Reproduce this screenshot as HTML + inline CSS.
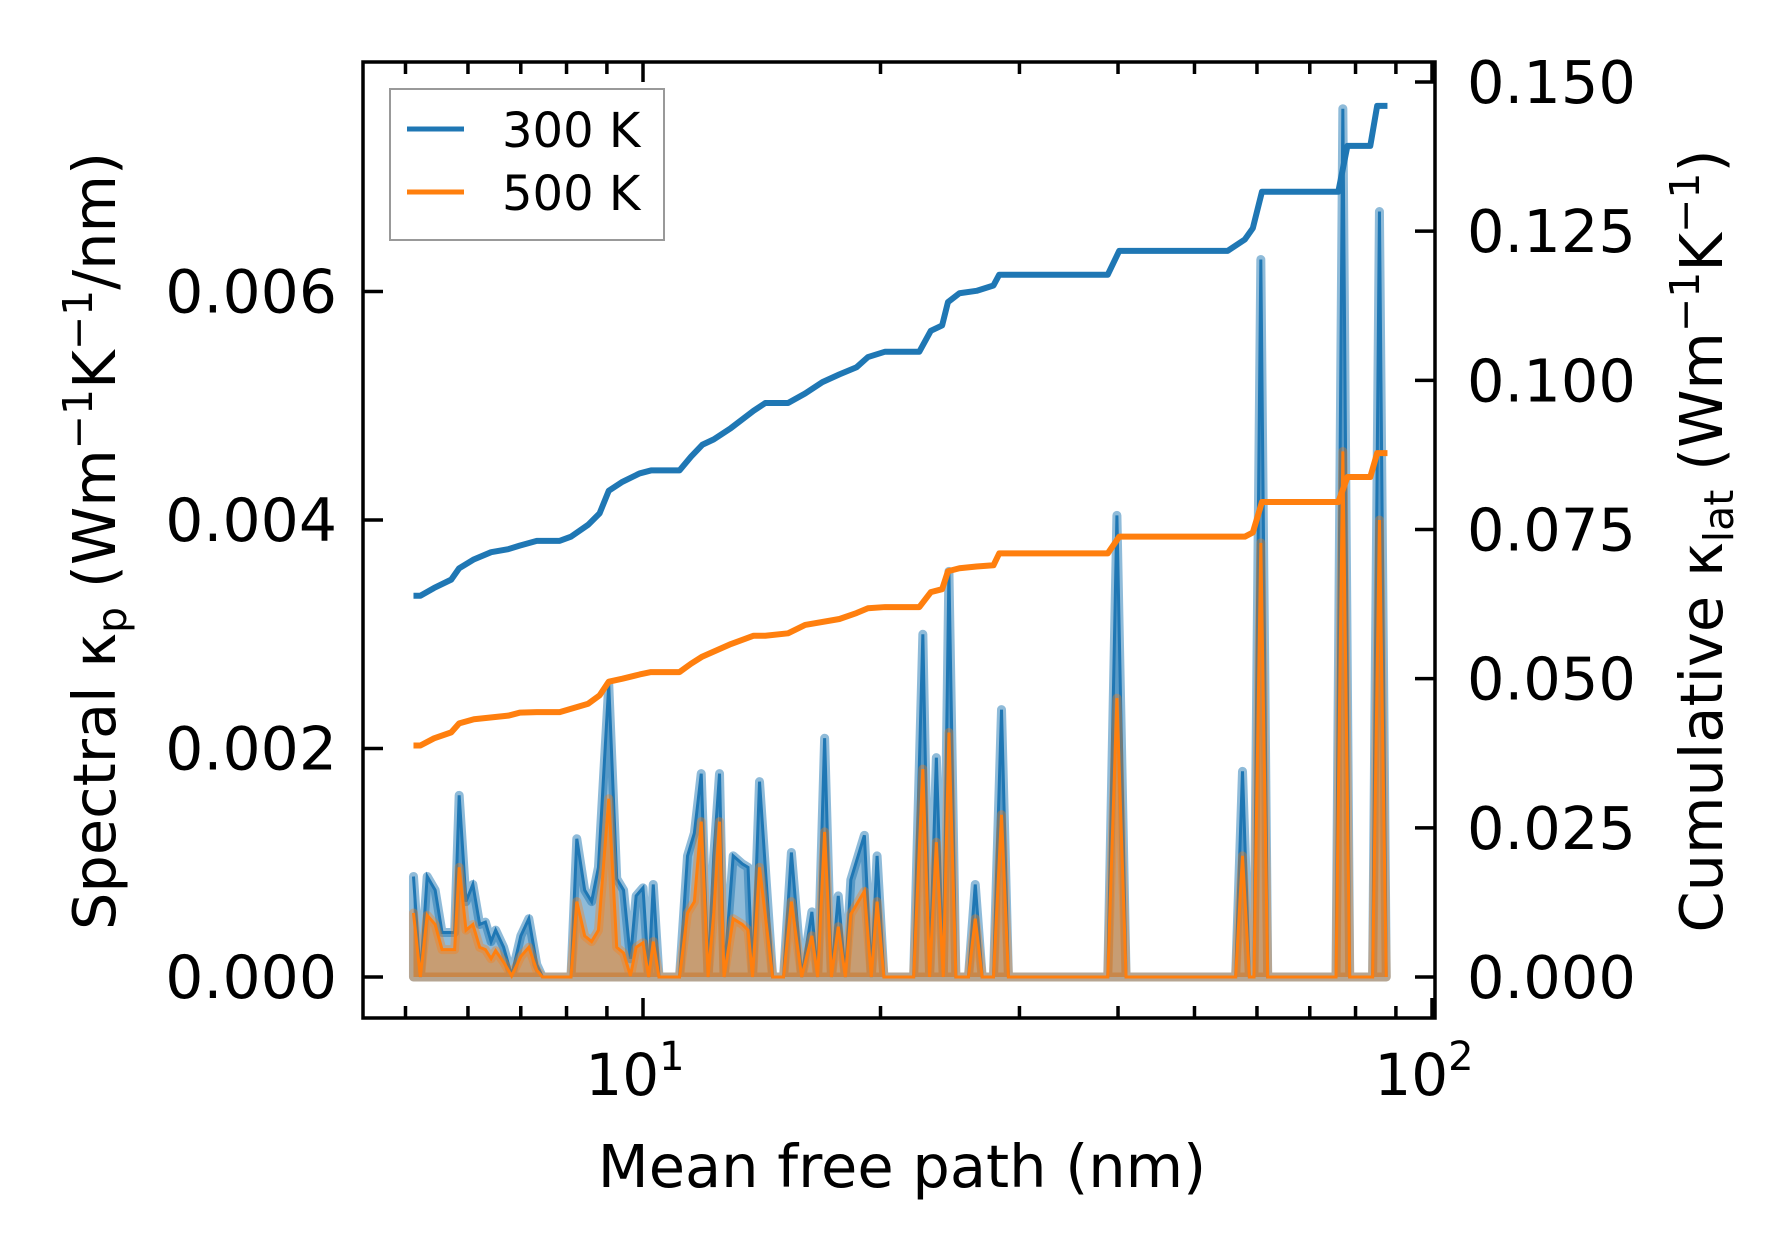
<!DOCTYPE html>
<html><head><meta charset="utf-8"><style>
html,body{margin:0;padding:0;background:#fff}
svg{display:block;font-family:"DejaVu Sans","Liberation Sans",sans-serif}
</style></head><body>
<svg id="chart" width="1790" height="1258" viewBox="0 0 1790 1258" xmlns="http://www.w3.org/2000/svg">
<g id="plot"></g>
</svg>
<script>
// ---- data ----
const specMfp = [5.118,5.222,5.327,5.452,5.563,5.771,5.848,5.966,6.086,6.209,6.313,6.419,6.505,6.658,6.816,7.001,7.166,7.334,7.457,8.104,8.243,8.435,8.607,8.781,9.049,9.262,9.449,9.640,9.802,10.0,10.168,10.304,10.478,11.124,11.387,11.618,11.852,12.092,12.294,12.502,12.668,13.011,13.363,13.587,13.767,14.05,14.6,15.07,15.42,15.89,16.37,16.65,16.99,17.33,17.68,18.05,18.34,19.08,19.47,19.80,20.20,22.03,22.63,23.08,23.54,24.02,24.42,24.92,25.85,26.37,26.91,27.81,28.47,29.05,38.82,39.87,40.95,56.38,57.52,58.69,59.47,60.68,61.91,75.57,77.09,78.65,84.08,85.78,87.5];
const spec300 = [0.00088,0,0.00088,0.00076,0.00039,0.00039,0.00159,0.00066,0.00081,0.00046,0.00048,0.00031,0.00041,0.00026,0.00001,0.00036,0.00051,0.00011,0,0,0.00121,0.00076,0.00066,0.00096,0.00256,0.00086,0.00076,0.00016,0.00071,0.00078,0,0.00081,0,0,0.00106,0.00126,0.00178,0,0.00106,0.00178,0,0.00106,0.00099,0.00096,0,0.00171,0,0,0.00109,0,0.00057,0,0.00209,0,0.00071,0,0.00085,0.00124,0,0.00106,0,0,0.003,0,0.00192,0,0.00355,0,0,0.00081,0,0,0.00234,0,0,0.00404,0,0,0.0018,0,0,0.00628,0,0,0.0076,0,0,0.0067,0];
const spec500 = [0.00056,0,0.00054,0.00046,0.00024,0.00024,0.00096,0.00041,0.00046,0.00026,0.00024,0.00016,0.00023,0.00013,0.00001,0.00018,0.00026,0.00006,0,0,0.00066,0.00036,0.00031,0.00041,0.00156,0.00026,0.00021,0.00001,0.00026,0.0003,0,0.00031,0,0,0.00056,0.00066,0.00136,0,0.00056,0.00136,0,0.00051,0.00046,0.00041,0,0.00096,0,0,0.00066,0,0.00036,0,0.00127,0,0.00044,0,0.00055,0.00075,0,0.00066,0,0,0.00182,0,0.00118,0,0.00214,0,0,0.00051,0,0,0.00142,0,0,0.00244,0,0,0.00106,0,0,0.0038,0,0,0.0046,0,0,0.004,0];
const cumMfp300 = [5.118,5.222,5.435,5.714,5.848,6.106,6.419,6.748,6.977,7.334,7.842,8.104,8.522,8.810,9.049,9.419,9.900,10.235,11.124,11.503,11.890,12.294,12.925,13.81,14.29,15.27,16.05,16.88,17.74,18.65,19.28,20.27,22.40,23.16,23.94,24.35,25.18,26.47,27.81,28.28,30.74,38.82,40.14,55.08,57.91,59.28,60.88,76.07,78.13,83.52,85.21,87.81];
const cum300 = [0.0639,0.0639,0.0652,0.0666,0.0685,0.0700,0.0712,0.0717,0.0723,0.0731,0.0731,0.0738,0.0758,0.0777,0.0815,0.0830,0.0844,0.0849,0.0849,0.0872,0.0892,0.0901,0.0920,0.0949,0.0962,0.0962,0.0978,0.0997,0.1010,0.1022,0.1039,0.1048,0.1048,0.1083,0.1092,0.1131,0.1146,0.1150,0.1159,0.1177,0.1177,0.1177,0.1217,0.1217,0.1236,0.1255,0.1316,0.1316,0.1393,0.1393,0.1460,0.1460];
const cumMfp500 = [5.118,5.222,5.435,5.714,5.848,6.106,6.748,6.977,7.334,7.842,8.522,8.810,9.049,9.419,9.900,10.235,11.124,11.503,11.890,12.925,13.81,14.29,15.27,16.05,17.74,18.65,19.28,20.27,22.40,23.16,23.94,24.35,25.18,26.47,27.81,28.28,38.82,40.14,57.91,59.28,60.88,76.07,78.13,83.52,85.21,87.81];
const cum500 = [0.0388,0.0388,0.0400,0.0410,0.0425,0.0432,0.0438,0.0443,0.0444,0.0444,0.0458,0.0472,0.0495,0.0500,0.0507,0.0511,0.0511,0.0525,0.0537,0.0558,0.0572,0.0572,0.0576,0.0590,0.0600,0.0610,0.0618,0.0620,0.0620,0.0645,0.0650,0.0680,0.0685,0.0688,0.0690,0.0710,0.0710,0.0738,0.0738,0.0745,0.0796,0.0796,0.0838,0.0838,0.0878,0.0878];
const leftTicks = [0,0.002,0.004,0.006];
const leftTickLabels = ["0.000","0.002","0.004","0.006"];
const rightTicks = [0,0.025,0.05,0.075,0.1,0.125,0.15];
const rightTickLabels = ["0.000","0.025","0.050","0.075","0.100","0.125","0.150"];
const xMajor = [10,100];
const xMinor = [5,6,7,8,9,20,30,40,50,60,70,80,90];

// ---- axes ----
const L=363,R=1435,T=62,B=1018;
const X0=643, DEC=789;
const xs=v=>X0+(Math.log10(v)-1)*DEC;
const yl=v=>977-v/0.002*228.5;
const yr=v=>977-v/0.15*895;
const NS="http://www.w3.org/2000/svg";
const g=document.getElementById('plot');
function mk(tag,attrs,parent){const e=document.createElementNS(NS,tag);for(const k in attrs)e.setAttribute(k,attrs[k]);(parent||g).appendChild(e);return e;}

function areaPath(xsArr,ys,yf){let d='M'+xs(xsArr[0])+','+yf(0);xsArr.forEach((m,i)=>{d+=' L'+xs(m)+','+yf(ys[i]);});d+=' L'+xs(xsArr[xsArr.length-1])+','+yf(0)+' Z';return d;}
function linePath(xsArr,ys,yf){return xsArr.map((m,i)=>(i?'L':'M')+xs(m)+','+yf(ys[i])).join(' ');}

let e;
e=mk('path',{d:areaPath(specMfp,spec300,yl),fill:'#1f77b4','fill-opacity':0.5,stroke:'#1f77b4','stroke-opacity':0.5,'stroke-width':9,'stroke-linejoin':'round'});


e=mk('path',{d:linePath(specMfp,spec300,yl),fill:'none',stroke:'#1f77b4','stroke-width':3});


e=mk('path',{d:areaPath(specMfp,spec500,yl),fill:'#ff7f0e','fill-opacity':0.5,stroke:'#ff7f0e','stroke-opacity':0.35,'stroke-width':9,'stroke-linejoin':'round'});


e=mk('path',{d:linePath(specMfp,spec500,yl),fill:'none',stroke:'#ff7f0e','stroke-width':3});


e=mk('path',{d:linePath(cumMfp300,cum300,yr),fill:'none',stroke:'#1f77b4','stroke-width':6,'stroke-linejoin':'round'});


e=mk('path',{d:linePath(cumMfp500,cum500,yr),fill:'none',stroke:'#ff7f0e','stroke-width':6,'stroke-linejoin':'round'});



e=mk('rect',{x:L,y:T,width:R-L,height:B-T,fill:'none',stroke:'#000','stroke-width':3.5});



const tk=(x1,y1,x2,y2)=>mk('path',{d:`M${x1},${y1}L${x2},${y2}`,stroke:'#000','stroke-width':3.5});
xMajor.forEach(v=>{const x=xs(v);tk(x,B,x,B-20);tk(x,T,x,T+20);});
xMinor.forEach(v=>{const x=xs(v);if(x<L||x>R)return;tk(x,B,x,B-12);tk(x,T,x,T+12);});
leftTicks.forEach((v,i)=>{const y=yl(v);tk(L,y,L+20,y);
 e=mk('text',{x:L-26,y:y+21,'text-anchor':'end','font-size':60});e.textContent=leftTickLabels[i];
 
 });
rightTicks.forEach((v,i)=>{const y=yr(v);tk(R,y,R-20,y);
 e=mk('text',{x:R+32,y:y+21,'font-size':59});e.textContent=rightTickLabels[i];
 
 });
xMajor.forEach((v,i)=>{
 e=mk('text',{x:xs(v)-8,y:1095,'text-anchor':'middle','font-size':58});
 e.innerHTML='10<tspan dy="-25" font-size="40">'+(i+1)+'</tspan>';
 
 });
</script>
<svg width="1790" height="1258" style="position:absolute;left:0;top:0" xmlns="http://www.w3.org/2000/svg" font-family="DejaVu Sans, Liberation Sans, sans-serif">
<text x="902" y="1187" text-anchor="middle" font-size="59">Mean free path (nm)</text>
<text transform="translate(115,541) rotate(-90)" text-anchor="middle" font-size="59">Spectral κ<tspan font-size="41" dy="11">p</tspan><tspan dy="-11"> (Wm</tspan><tspan font-size="41" dy="-23">−1</tspan><tspan dy="23">K</tspan><tspan font-size="41" dy="-23">−1</tspan><tspan dy="23">/nm)</tspan></text>
<text transform="translate(1722,541) rotate(-90)" text-anchor="middle" font-size="59">Cumulative κ<tspan font-size="41" dy="11">lat</tspan><tspan dy="-11"> (Wm</tspan><tspan font-size="41" dy="-23">−1</tspan><tspan dy="23">K</tspan><tspan font-size="41" dy="-23">−1</tspan><tspan dy="23">)</tspan></text>
<g>
<rect x="390" y="89" width="274" height="151" fill="#fff" fill-opacity="0.8" stroke="#999" stroke-width="2"/>
<line x1="407" y1="129" x2="464" y2="129" stroke="#1f77b4" stroke-width="5"/>
<text x="502" y="147" font-size="48">300 K</text>
<line x1="407" y1="192" x2="464" y2="192" stroke="#ff7f0e" stroke-width="5"/>
<text x="502" y="210" font-size="48">500 K</text>
</g>
</svg>
</body></html>
